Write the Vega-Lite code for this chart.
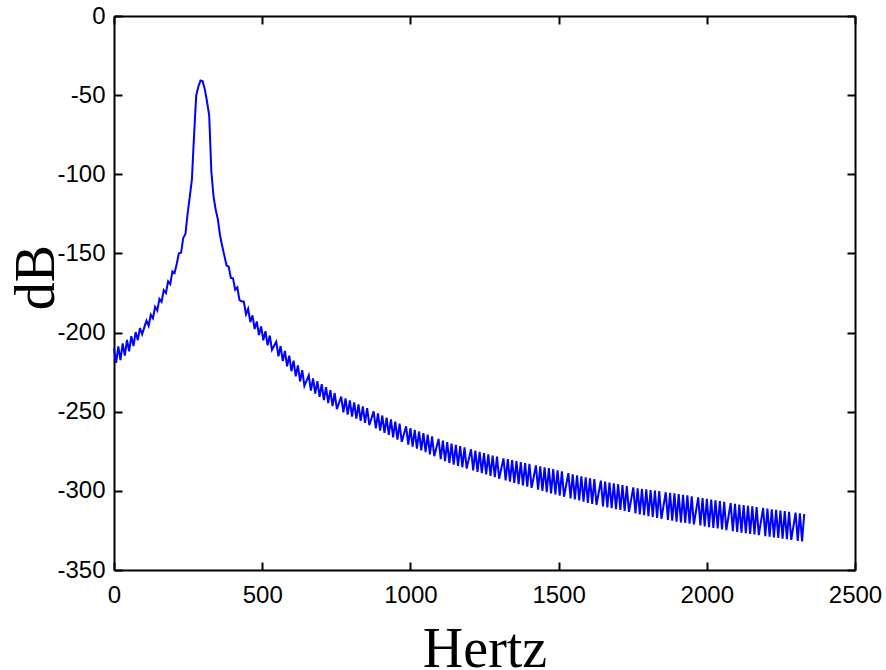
{
  "$schema": "https://vega.github.io/schema/vega-lite/v6.json",
  "width": 741,
  "height": 554,
  "autosize": {"type": "none"},
  "padding": {"left": 114, "top": 16, "right": 31, "bottom": 100},
  "background": "white",
  "config": {
    "view": {"stroke": null},
    "axis": {
      "grid": false,
      "domainColor": "black",
      "domainWidth": 2,
      "tickColor": "black",
      "tickWidth": 2,
      "tickSize": -8,
      "labelFont": "Liberation Sans",
      "labelFontSize": 24,
      "labelColor": "black",
      "labelFlush": false,
      "labelOverlap": false,
      "labelExpr": "'' + datum.value",
      "titleFont": "Liberation Serif",
      "titleFontSize": 56,
      "titleFontWeight": "normal",
      "titleColor": "black"
    }
  },
  "data": {"values": [
{"f":0,"db":-210},{"f":7.3,"db":-219.2},{"f":14.6,"db":-208.7},{"f":21.9,"db":-217.4},{"f":29.2,"db":-206.9},{"f":36.5,"db":-214.6},{"f":43.8,"db":-204.7},{"f":51.1,"db":-211.8},{"f":58.4,"db":-202.3},{"f":65.7,"db":-208.5},
{"f":73,"db":-199.7},{"f":80.3,"db":-204.8},{"f":87.6,"db":-197.1},{"f":94.9,"db":-201.1},{"f":102.2,"db":-196.7},{"f":109.5,"db":-192.5},{"f":116.8,"db":-195.7},{"f":124.1,"db":-188.7},{"f":131.4,"db":-191.0},{"f":138.7,"db":-183.7},
{"f":146,"db":-186.0},{"f":153.3,"db":-178.7},{"f":160.6,"db":-180.6},{"f":167.9,"db":-173.2},{"f":175.2,"db":-175.0},{"f":182.5,"db":-167.6},{"f":189.8,"db":-169.4},{"f":197.1,"db":-161.3},{"f":204.4,"db":-162.4},{"f":211.7,"db":-156.5},
{"f":219,"db":-149.9},{"f":226.3,"db":-149.6},{"f":233.6,"db":-140.1},{"f":240.9,"db":-137.9},{"f":248.2,"db":-125.1},{"f":255.5,"db":-114.5},{"f":262.8,"db":-103.3},{"f":270.1,"db":-75.4},{"f":277.4,"db":-50},{"f":284.7,"db":-44.5},
{"f":292,"db":-40.8},{"f":299.3,"db":-41.3},{"f":306.6,"db":-46.5},{"f":313.9,"db":-54.2},{"f":321.2,"db":-63},{"f":328.5,"db":-98.4},{"f":335.8,"db":-114},{"f":343.1,"db":-122.4},{"f":350.4,"db":-128.5},{"f":357.7,"db":-138.5},
{"f":365,"db":-145.3},{"f":372.3,"db":-151.4},{"f":379.6,"db":-157.5},{"f":386.9,"db":-158.4},{"f":394.2,"db":-165.5},{"f":401.5,"db":-165.7},{"f":408.8,"db":-172.9},{"f":416.1,"db":-171.5},{"f":423.4,"db":-179.5},{"f":430.7,"db":-180.2},
{"f":438,"db":-180.5},{"f":445.3,"db":-188.4},{"f":452.6,"db":-184.9},{"f":459.9,"db":-193.4},{"f":467.2,"db":-189.1},{"f":474.5,"db":-197.8},{"f":481.8,"db":-193.0},{"f":489.1,"db":-201.6},{"f":496.4,"db":-196.1},{"f":503.7,"db":-204.9},
{"f":511,"db":-199.1},{"f":518.3,"db":-208.1},{"f":525.6,"db":-201.9},{"f":532.9,"db":-210.9},{"f":540.2,"db":-208.3},{"f":547.5,"db":-205.7},{"f":554.8,"db":-215.0},{"f":562.1,"db":-208.5},{"f":569.4,"db":-218.0},{"f":576.7,"db":-211.6},
{"f":584,"db":-221.3},{"f":591.3,"db":-214.6},{"f":598.6,"db":-224.4},{"f":605.9,"db":-217.7},{"f":613.2,"db":-227.6},{"f":620.5,"db":-220.8},{"f":627.8,"db":-230.9},{"f":635.1,"db":-223.8},{"f":642.4,"db":-233.7},{"f":649.7,"db":-230.4},
{"f":657,"db":-227.0},{"f":664.3,"db":-236.7},{"f":671.6,"db":-228.9},{"f":678.9,"db":-238.6},{"f":686.2,"db":-230.7},{"f":693.5,"db":-240.6},{"f":700.8,"db":-232.6},{"f":708.1,"db":-242.6},{"f":715.4,"db":-234.5},{"f":722.7,"db":-244.5},
{"f":730,"db":-236.4},{"f":737.3,"db":-246.5},{"f":744.6,"db":-238.2},{"f":751.9,"db":-248.4},{"f":759.2,"db":-244.4},{"f":766.5,"db":-240.4},{"f":773.8,"db":-250.4},{"f":781.1,"db":-241.6},{"f":788.4,"db":-251.8},{"f":795.7,"db":-242.8},
{"f":803,"db":-253.1},{"f":810.3,"db":-244.1},{"f":817.6,"db":-254.4},{"f":824.9,"db":-245.3},{"f":832.2,"db":-255.8},{"f":839.5,"db":-246.6},{"f":846.8,"db":-257.1},{"f":854.1,"db":-247.8},{"f":861.4,"db":-258.5},{"f":868.7,"db":-254.1},
{"f":876,"db":-249.8},{"f":883.3,"db":-260.5},{"f":890.6,"db":-251.1},{"f":897.9,"db":-261.9},{"f":905.2,"db":-252.4},{"f":912.5,"db":-263.4},{"f":919.8,"db":-253.7},{"f":927.1,"db":-264.7},{"f":934.4,"db":-254.9},{"f":941.7,"db":-266.2},
{"f":949,"db":-256.3},{"f":956.3,"db":-267.6},{"f":963.6,"db":-257.5},{"f":970.9,"db":-269.0},{"f":978.2,"db":-264.1},{"f":985.5,"db":-259.2},{"f":992.8,"db":-270.8},{"f":1000.1,"db":-260.3},{"f":1007.4,"db":-272.0},{"f":1014.7,"db":-261.4},
{"f":1022,"db":-273.3},{"f":1029.3,"db":-262.5},{"f":1036.6,"db":-274.4},{"f":1043.9,"db":-263.5},{"f":1051.2,"db":-275.6},{"f":1058.5,"db":-264.5},{"f":1065.8,"db":-276.9},{"f":1073.1,"db":-265.6},{"f":1080.4,"db":-278.1},{"f":1087.7,"db":-272.7},
{"f":1095,"db":-267.2},{"f":1102.3,"db":-279.9},{"f":1109.6,"db":-268.2},{"f":1116.9,"db":-281.2},{"f":1124.2,"db":-269.2},{"f":1131.5,"db":-282.4},{"f":1138.8,"db":-270.2},{"f":1146.1,"db":-283.4},{"f":1153.4,"db":-270.9},{"f":1160.7,"db":-284.3},
{"f":1168,"db":-271.7},{"f":1175.3,"db":-285.1},{"f":1182.6,"db":-272.5},{"f":1189.9,"db":-285.9},{"f":1197.2,"db":-279.8},{"f":1204.5,"db":-273.7},{"f":1211.8,"db":-287.1},{"f":1219.1,"db":-274.6},{"f":1226.4,"db":-288.0},{"f":1233.7,"db":-275.4},
{"f":1241,"db":-288.8},{"f":1248.3,"db":-276.2},{"f":1255.6,"db":-289.6},{"f":1262.9,"db":-276.9},{"f":1270.2,"db":-290.5},{"f":1277.5,"db":-277.7},{"f":1284.8,"db":-291.3},{"f":1292.1,"db":-278.4},{"f":1299.4,"db":-292.3},{"f":1306.7,"db":-285.9},
{"f":1314,"db":-279.5},{"f":1321.3,"db":-293.4},{"f":1328.6,"db":-280.0},{"f":1335.9,"db":-294.2},{"f":1343.2,"db":-280.6},{"f":1350.5,"db":-295.0},{"f":1357.8,"db":-281.2},{"f":1365.1,"db":-295.8},{"f":1372.4,"db":-281.8},{"f":1379.7,"db":-296.5},
{"f":1387,"db":-282.4},{"f":1394.3,"db":-297.3},{"f":1401.6,"db":-283.0},{"f":1408.9,"db":-298.1},{"f":1416.2,"db":-291.1},{"f":1423.5,"db":-283.9},{"f":1430.8,"db":-299.2},{"f":1438.1,"db":-284.5},{"f":1445.4,"db":-300.0},{"f":1452.7,"db":-285.1},
{"f":1460,"db":-300.8},{"f":1467.3,"db":-285.6},{"f":1474.6,"db":-301.6},{"f":1481.9,"db":-286.3},{"f":1489.2,"db":-302.3},{"f":1496.5,"db":-287.0},{"f":1503.8,"db":-303.0},{"f":1511.1,"db":-287.7},{"f":1518.4,"db":-303.7},{"f":1525.7,"db":-296.2},
{"f":1533,"db":-288.8},{"f":1540.3,"db":-304.7},{"f":1547.6,"db":-289.5},{"f":1554.9,"db":-305.4},{"f":1562.2,"db":-290.2},{"f":1569.5,"db":-306.1},{"f":1576.8,"db":-290.9},{"f":1584.1,"db":-306.8},{"f":1591.4,"db":-291.4},{"f":1598.7,"db":-307.6},
{"f":1606,"db":-292.1},{"f":1613.3,"db":-308.2},{"f":1620.6,"db":-292.6},{"f":1627.9,"db":-308.9},{"f":1635.2,"db":-301.2},{"f":1642.5,"db":-293.5},{"f":1649.8,"db":-309.8},{"f":1657.1,"db":-294.1},{"f":1664.4,"db":-310.4},{"f":1671.7,"db":-294.7},
{"f":1679,"db":-310.9},{"f":1686.3,"db":-295.2},{"f":1693.6,"db":-311.5},{"f":1700.9,"db":-295.8},{"f":1708.2,"db":-312.1},{"f":1715.5,"db":-296.4},{"f":1722.8,"db":-312.7},{"f":1730.1,"db":-297.0},{"f":1737.4,"db":-313.3},{"f":1744.7,"db":-305.6},
{"f":1752,"db":-297.8},{"f":1759.3,"db":-314.3},{"f":1766.6,"db":-298.4},{"f":1773.9,"db":-314.9},{"f":1781.2,"db":-298.8},{"f":1788.5,"db":-315.4},{"f":1795.8,"db":-299.1},{"f":1803.1,"db":-316.0},{"f":1810.4,"db":-299.5},{"f":1817.7,"db":-316.5},
{"f":1825,"db":-299.8},{"f":1832.3,"db":-317.1},{"f":1839.6,"db":-300.2},{"f":1846.9,"db":-317.6},{"f":1854.2,"db":-309.2},{"f":1861.5,"db":-300.9},{"f":1868.8,"db":-318.3},{"f":1876.1,"db":-301.2},{"f":1883.4,"db":-318.9},{"f":1890.7,"db":-301.6},
{"f":1898,"db":-319.4},{"f":1905.3,"db":-302.0},{"f":1912.6,"db":-319.9},{"f":1919.9,"db":-302.5},{"f":1927.2,"db":-320.3},{"f":1934.5,"db":-302.9},{"f":1941.8,"db":-320.8},{"f":1949.1,"db":-303.4},{"f":1956.4,"db":-321.2},{"f":1963.7,"db":-312.7},
{"f":1971,"db":-304.1},{"f":1978.3,"db":-321.9},{"f":1985.6,"db":-304.6},{"f":1992.9,"db":-322.4},{"f":2000.2,"db":-305.0},{"f":2007.5,"db":-322.9},{"f":2014.8,"db":-305.5},{"f":2022.1,"db":-323.4},{"f":2029.4,"db":-306.0},{"f":2036.7,"db":-323.8},
{"f":2044,"db":-306.5},{"f":2051.3,"db":-324.3},{"f":2058.6,"db":-307.0},{"f":2065.9,"db":-324.8},{"f":2073.2,"db":-316.2},{"f":2080.5,"db":-307.7},{"f":2087.8,"db":-325.5},{"f":2095.1,"db":-308.2},{"f":2102.4,"db":-326.0},{"f":2109.7,"db":-308.6},
{"f":2117,"db":-326.4},{"f":2124.3,"db":-309.0},{"f":2131.6,"db":-326.8},{"f":2138.9,"db":-309.4},{"f":2146.2,"db":-327.2},{"f":2153.5,"db":-309.8},{"f":2160.8,"db":-327.6},{"f":2168.1,"db":-310.2},{"f":2175.4,"db":-328.0},{"f":2182.7,"db":-319.4},
{"f":2190,"db":-310.8},{"f":2197.3,"db":-328.6},{"f":2204.6,"db":-311.2},{"f":2211.9,"db":-329.0},{"f":2219.2,"db":-311.6},{"f":2226.5,"db":-329.4},{"f":2233.8,"db":-312.0},{"f":2241.1,"db":-329.8},{"f":2248.4,"db":-312.4},{"f":2255.7,"db":-330.2},
{"f":2263,"db":-312.8},{"f":2270.3,"db":-330.6},{"f":2277.6,"db":-313.2},{"f":2284.9,"db":-331.0},{"f":2292.2,"db":-322.4},{"f":2299.5,"db":-313.8},{"f":2306.8,"db":-331.6},{"f":2314.1,"db":-314.2},{"f":2321.4,"db":-332.0},{"f":2328.7,"db":-314.6}
  ]},
  "layer": [
    {
      "mark": {"type": "line", "color": "#0000ff", "strokeWidth": 2},
      "encoding": {
        "x": {"field": "f", "type": "quantitative", "scale": {"domain": [0, 2500], "nice": false, "zero": false},
          "axis": {"orient": "bottom", "values": [0, 500, 1000, 1500, 2000, 2500], "title": "Hertz", "labelPadding": 33, "labelBaseline": "middle", "titleY": 96, "titleBaseline": "alphabetic"}},
        "y": {"field": "db", "type": "quantitative", "scale": {"domain": [-350, 0], "nice": false, "zero": false},
          "axis": {"orient": "left", "values": [-350, -300, -250, -200, -150, -100, -50, 0], "title": "dB", "labelPadding": 17, "titleAngle": -90, "titleX": -61, "titleY": 261, "titleAlign": "center", "titleBaseline": "alphabetic"}}
      }
    },
    {
      "mark": {"type": "line", "strokeOpacity": 0},
      "encoding": {
        "x": {"field": "f", "type": "quantitative",
          "axis": {"orient": "top", "values": [0, 500, 1000, 1500, 2000, 2500], "labels": false, "title": null}},
        "y": {"field": "db", "type": "quantitative",
          "axis": {"orient": "right", "values": [-350, -300, -250, -200, -150, -100, -50, 0], "labels": false, "title": null}}
      }
    }
  ],
  "resolve": {"axis": {"x": "independent", "y": "independent"}}
}
